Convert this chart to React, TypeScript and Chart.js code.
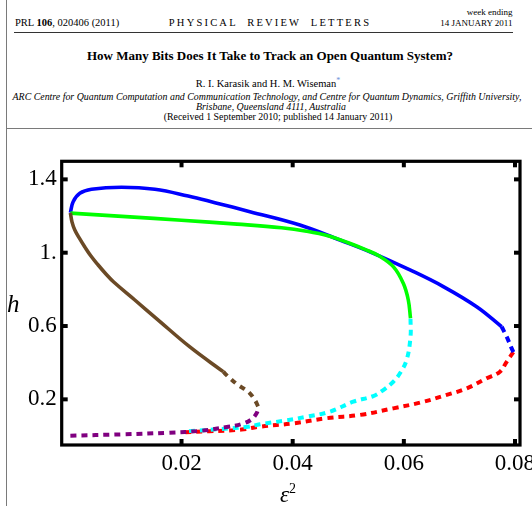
import React, { useEffect, useRef } from "react";
import { Chart, registerables } from "chart.js";
Chart.register(...registerables);

// ---- data (x = epsilon^2, y = h) ----
const blueSolid: [number, number][] = [
  [0.0, 1.218], [0.0005, 1.278], [0.0017, 1.324], [0.0038, 1.346], [0.0092, 1.357],
  [0.0152, 1.346], [0.0212, 1.309], [0.026, 1.273], [0.0323, 1.224], [0.0413, 1.151],
  [0.0485, 1.069], [0.0539, 1.005], [0.0611, 0.906], [0.0671, 0.815], [0.0731, 0.705],
  [0.0776, 0.596],
];
const blueDashed: [number, number][] = [
  [0.0776, 0.596], [0.0785, 0.542], [0.0794, 0.478], [0.0797, 0.458],
];
const redDashed: [number, number][] = [
  [0.0797, 0.458], [0.0785, 0.405], [0.0773, 0.351], [0.0749, 0.315], [0.0713, 0.26],
  [0.0677, 0.224], [0.0629, 0.182], [0.0581, 0.151], [0.0521, 0.115], [0.0461, 0.097],
  [0.0401, 0.069], [0.0341, 0.051], [0.0308, 0.035], [0.025, 0.026], [0.02, 0.02],
];
const greenSolid: [number, number][] = [
  [0.0, 1.216], [0.01, 1.197], [0.02, 1.177], [0.03, 1.156], [0.038, 1.136],
  [0.0425, 1.117], [0.0465, 1.091], [0.05, 1.054], [0.053, 1.018], [0.0555, 0.983],
  [0.0581, 0.924], [0.0599, 0.833], [0.0608, 0.742], [0.0612, 0.642],
];
const cyanDashed: [number, number][] = [
  [0.0612, 0.64], [0.0612, 0.542], [0.0605, 0.415], [0.0593, 0.342], [0.0581, 0.296],
  [0.0563, 0.251], [0.0545, 0.218], [0.0509, 0.187], [0.0467, 0.133], [0.0425, 0.105],
  [0.0383, 0.083], [0.0341, 0.064], [0.032, 0.051], [0.027, 0.038], [0.021, 0.026],
];
const brownSolid: [number, number][] = [
  [0.0, 1.217], [0.0003, 1.167], [0.0008, 1.124], [0.0017, 1.075], [0.0026, 1.031],
  [0.0037, 0.982], [0.005, 0.933], [0.0064, 0.884], [0.0078, 0.84], [0.0116, 0.742],
  [0.0156, 0.638], [0.0215, 0.486], [0.0275, 0.351],
];
const brownDashed: [number, number][] = [
  [0.0275, 0.351], [0.0284, 0.324], [0.0302, 0.278], [0.032, 0.242], [0.0332, 0.196],
  [0.0338, 0.16],
];
const purpleDashed: [number, number][] = [
  [0.0, 0.002], [0.0092, 0.009], [0.0176, 0.018], [0.0236, 0.029], [0.0284, 0.051],
  [0.0308, 0.065], [0.0326, 0.091], [0.0335, 0.124], [0.0338, 0.151], [0.0338, 0.16],
];

const xTickValues = [0.02, 0.04, 0.06, 0.08];
const xTickLabels = ["0.02", "0.04", "0.06", "0.08"];
const yTickValues = [0.2, 0.6, 1.0, 1.4];
const yTickLabels = ["0.2", "0.6", "1.", "1.4"];

const SERIF = "'Liberation Serif', 'Times New Roman', serif";

const toPts = (a: [number, number][]) => a.map(([x, y]) => ({ x, y }));

const mk = (label: string, data: [number, number][], color: string, dashed: boolean) => ({
  label,
  data: toPts(data),
  borderColor: color,
  backgroundColor: color,
  borderWidth: dashed ? 4 : 3.6,
  borderDash: dashed ? [6, 5] : [],
  borderCapStyle: "butt" as const,
  showLine: true,
  pointRadius: 0,
  pointHoverRadius: 0,
  tension: 0.4,
  fill: false,
});

const lookup = (vals: number[], labels: string[]) => (v: any) => {
  const i = vals.findIndex((t) => Math.abs(t - Number(v)) < 1e-9);
  return i >= 0 ? labels[i] : "";
};

const framePlugin = {
  id: "frame",
  afterDatasetsDraw(chart: any) {
    const { ctx, chartArea, scales } = chart;
    const { left, right, top, bottom } = chartArea;
    ctx.save();
    ctx.strokeStyle = "#000";
    ctx.lineWidth = 3.2;
    ctx.strokeRect(left, top, right - left, bottom - top);
    ctx.lineWidth = 4;
    ctx.lineCap = "butt";
    const seg = (x1: number, y1: number, x2: number, y2: number) => {
      ctx.beginPath();
      ctx.moveTo(x1, y1);
      ctx.lineTo(x2, y2);
      ctx.stroke();
    };
    for (const v of xTickValues) {
      const px = scales.x.getPixelForValue(v);
      seg(px, bottom, px, bottom - 6);
      seg(px, top, px, top + 6);
    }
    for (const v of yTickValues) {
      const py = scales.y.getPixelForValue(v);
      seg(left, py, left + 6, py);
      seg(right, py, right - 6, py);
    }
    ctx.restore();
  },
};

type TxtProps = {
  x: number;
  baseline: number;
  size: number;
  align?: "left" | "center" | "right";
  italic?: boolean;
  bold?: boolean;
  letterSpacing?: number;
  wordSpacing?: number;
  children: React.ReactNode;
};

const Txt = ({ x, baseline, size, align = "left", italic, bold, letterSpacing, wordSpacing, children }: TxtProps) => {
  const top = baseline - 0.8375 * size;
  const transform = align === "center" ? "translateX(-50%)" : align === "right" ? "translateX(-100%)" : undefined;
  return (
    <div
      style={{
        position: "absolute",
        left: x,
        top,
        fontFamily: SERIF,
        fontSize: size,
        lineHeight: `${size}px`,
        fontStyle: italic ? "italic" : "normal",
        fontWeight: bold ? 700 : 400,
        whiteSpace: "nowrap",
        transform,
        letterSpacing: letterSpacing ? `${letterSpacing}px` : undefined,
        wordSpacing: wordSpacing ? `${wordSpacing}px` : undefined,
        color: "#000",
      }}
    >
      {children}
    </div>
  );
};

export default function App() {
  const ref = useRef<HTMLCanvasElement | null>(null);

  useEffect(() => {
    if (!ref.current) return;
    const tickFont = { family: SERIF, size: 23 };
    const chart = new Chart(ref.current, {
      type: "scatter",
      data: {
        // first dataset is drawn on top
        datasets: [
          mk("purple", purpleDashed, "#800080", true),
          mk("brownDashed", brownDashed, "#6b4a26", true),
          mk("brown", brownSolid, "#6b4a26", false),
          mk("green", greenSolid, "#00ff00", false),
          mk("cyan", cyanDashed, "#00ffff", true),
          mk("blue", blueSolid, "#0000ff", false),
          mk("blueDashed", blueDashed, "#0000ff", true),
          mk("red", redDashed, "#ff0000", true),
        ] as any,
      },
      options: {
        responsive: false,
        animation: false,
        devicePixelRatio: 1,
        layout: { padding: { top: 161.3, right: 12, bottom: 0, left: 0 } },
        plugins: { legend: { display: false }, tooltip: { enabled: false } },
        events: [],
        scales: {
          x: {
            type: "linear",
            min: -0.00156,
            max: 0.0809,
            grid: { display: false, drawTicks: false },
            border: { display: false },
            afterBuildTicks: (s: any) => {
              s.ticks = xTickValues.map((v) => ({ value: v }));
            },
            afterFit: (s: any) => {
              s.height = 61;
              s.paddingLeft = 0;
              s.paddingRight = 0;
            },
            ticks: {
              padding: 5,
              color: "#000",
              font: tickFont,
              maxRotation: 0,
              autoSkip: false,
              callback: lookup(xTickValues, xTickLabels),
            },
          },
          y: {
            type: "linear",
            min: -0.049,
            max: 1.4986,
            grid: { display: false, drawTicks: false },
            border: { display: false },
            afterBuildTicks: (s: any) => {
              s.ticks = yTickValues.map((v) => ({ value: v }));
            },
            afterFit: (s: any) => {
              s.width = 61.7;
              s.paddingTop = 0;
              s.paddingBottom = 0;
            },
            ticks: {
              padding: 5,
              color: "#000",
              font: tickFont,
              autoSkip: false,
              callback: lookup(yTickValues, yTickLabels),
            },
          },
        },
      } as any,
      plugins: [framePlugin],
    });
    return () => chart.destroy();
  }, []);

  return (
    <div
      style={{
        position: "fixed",
        left: 0,
        top: 0,
        width: 532,
        height: 506,
        background: "#fff",
        overflow: "hidden",
      }}
    >
      {/* page frame lines */}
      <div style={{ position: "absolute", left: 6, top: 0, width: 1.2, height: 506, background: "#7a7a7a" }} />
      <div style={{ position: "absolute", left: 6, top: 127.5, width: 526, height: 1.8, background: "#7a7a7a" }} />
      <div style={{ position: "absolute", left: 14, top: 31.5, width: 499, height: 1.6, background: "#333" }} />

      {/* running header */}
      <Txt x={15} baseline={26.5} size={10.5}>
        PRL <b>106</b>, 020406 (2011)
      </Txt>
      <Txt x={270} baseline={26.5} size={10.5} align="center" letterSpacing={2.2} wordSpacing={5}>
        PHYSICAL REVIEW LETTERS
      </Txt>
      <Txt x={512.5} baseline={15.3} size={9} align="right">
        week ending
      </Txt>
      <Txt x={512.5} baseline={26.5} size={9} align="right">
        14 JANUARY 2011
      </Txt>

      {/* title block */}
      <Txt x={270} baseline={60} size={13} align="center" bold>
        How Many Bits Does It Take to Track an Open Quantum System?
      </Txt>
      <Txt x={268} baseline={85} size={10.5} align="center">
        R. I. Karasik and H. M. Wiseman
        <sup style={{ color: "#6e8fd8", fontSize: 8, verticalAlign: "4px" }}>*</sup>
      </Txt>
      <Txt x={267} baseline={100} size={9.9} align="center" italic>
        ARC Centre for Quantum Computation and Communication Technology, and Centre for Quantum Dynamics, Griffith University,
      </Txt>
      <Txt x={271} baseline={110.5} size={9.9} align="center" italic>
        Brisbane, Queensland 4111, Australia
      </Txt>
      <Txt x={278} baseline={120.5} size={9.9} align="center">
        (Received 1 September 2010; published 14 January 2011)
      </Txt>

      <canvas
        ref={ref}
        width={532}
        height={506}
        style={{ position: "absolute", left: 0, top: 0, width: 532, height: 506 }}
      />

      {/* axis titles */}
      <Txt x={7} baseline={311.5} size={25} italic>
        h
      </Txt>
      <Txt x={280} baseline={496} size={23} italic>
        ε<sup style={{ fontStyle: "normal", fontSize: 14, verticalAlign: "9px" }}>2</sup>
      </Txt>
    </div>
  );
}
